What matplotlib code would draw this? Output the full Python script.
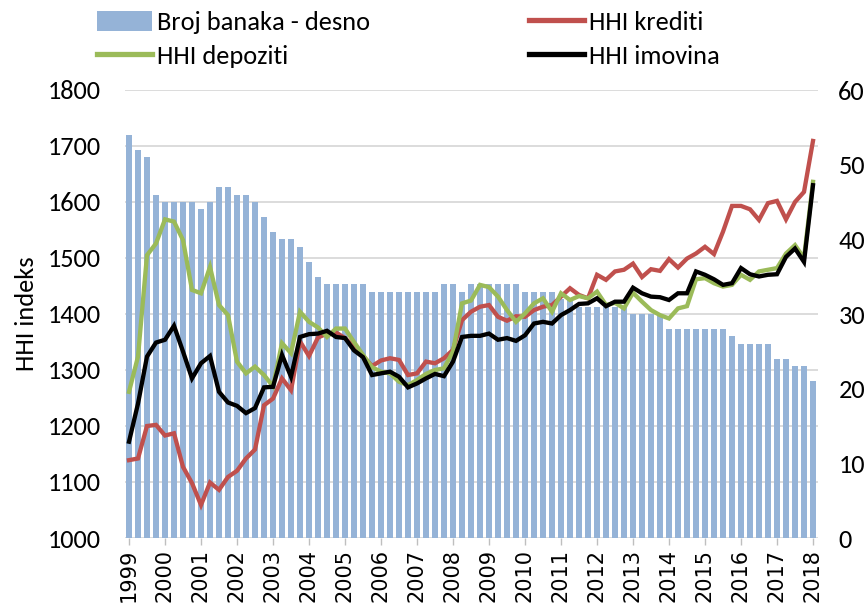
import matplotlib
matplotlib.use("Agg")
import matplotlib.pyplot as plt
from matplotlib import font_manager
import numpy as np
from matplotlib.patches import Patch
from matplotlib.lines import Line2D

years = [str(y) for y in range(1999, 2019)]

broj_banaka = [54, 52, 51, 46, 45, 45, 45, 45, 44, 45, 47, 47, 46, 46, 45, 43,
               41, 40, 40, 39, 37, 35, 34, 34, 34, 34, 34, 33, 33, 33, 33, 33,
               33, 33, 33, 34, 34, 33, 34, 34, 34, 34, 34, 34, 33, 33, 33, 33,
               32, 32, 31, 31, 31, 31, 31, 31, 30, 30, 30, 30, 28, 28, 28, 28,
               28, 28, 28, 27, 26, 26, 26, 26, 24, 24, 23, 23, 21]

hhi_krediti = [1139, 1142, 1200, 1202, 1183, 1187, 1127, 1098, 1059, 1099, 1086, 1109,
               1120, 1142, 1158, 1237, 1249, 1285, 1264, 1351, 1325, 1358, 1365, 1367,
               1357, 1342, 1325, 1307, 1317, 1321, 1318, 1291, 1294, 1315, 1312, 1321,
               1336, 1389, 1404, 1413, 1416, 1395, 1388, 1396, 1395, 1407, 1413, 1416,
               1431, 1446, 1434, 1428, 1470, 1461, 1476, 1479, 1490, 1466, 1480, 1477,
               1498, 1483, 1499, 1508, 1520, 1507, 1547, 1593, 1593, 1587, 1568, 1598,
               1602, 1569, 1600, 1618, 1709]

hhi_depoziti = [1261, 1324, 1505, 1526, 1569, 1565, 1532, 1443, 1437, 1484, 1416, 1398,
                1315, 1294, 1306, 1291, 1271, 1348, 1330, 1404, 1386, 1376, 1359, 1374,
                1374, 1350, 1327, 1305, 1297, 1294, 1279, 1273, 1282, 1293, 1300, 1303,
                1333, 1419, 1424, 1452, 1448, 1431, 1407, 1386, 1401, 1419, 1428, 1404,
                1437, 1425, 1432, 1428, 1440, 1416, 1420, 1410, 1438, 1422, 1407, 1398,
                1392, 1410, 1414, 1462, 1464, 1455, 1449, 1452, 1470, 1461, 1476, 1479,
                1482, 1508, 1523, 1500, 1636]

hhi_imovina = [1172, 1240, 1324, 1349, 1354, 1379, 1333, 1285, 1312, 1325, 1261, 1242,
               1236, 1223, 1232, 1269, 1270, 1327, 1288, 1359, 1364, 1365, 1370, 1359,
               1357, 1335, 1323, 1291, 1294, 1297, 1288, 1269, 1276, 1285, 1293, 1289,
               1315, 1359, 1361, 1361, 1365, 1354, 1357, 1352, 1362, 1383, 1386, 1383,
               1398, 1407, 1418, 1419, 1428, 1414, 1422, 1422, 1447, 1437, 1431, 1430,
               1425, 1437, 1437, 1476, 1470, 1462, 1452, 1455, 1482, 1471, 1467, 1470,
               1471, 1502, 1517, 1493, 1630]

C_BAR = "#95B3D7"
C_RED = "#C0504D"
C_GREEN = "#9BBB59"
C_BLACK = "#000000"

available = {f.name for f in font_manager.fontManager.ttflist}
FONT = "Lato"
for cand in ["Carlito", "Calibri", "Liberation Sans Narrow", "Lato"]:
    if cand in available:
        FONT = cand
        break
FS = 18 if FONT == "Lato" else 19

W, H = 867, 606
fig = plt.figure(figsize=(W / 100, H / 100), dpi=100)
left, right, bottom, top = 124.5, 817.5, 538, 90
ax = fig.add_axes([left / W, 1 - bottom / H, (right - left) / W, (bottom - top) / H])
ax2 = ax.twinx()

x = np.arange(len(broj_banaka))

# bars on right axis
ax2.set_ylim(0, 60)
yl = (1000, 1800)
for t in range(1000, 1801, 100):
    ax2.axhline((t - yl[0]) * 60 / (yl[1] - yl[0]), color="#D9D9D9", lw=1.3, zorder=0.5)
ax2.bar(x, broj_banaka, width=0.68, color=C_BAR, zorder=2, label="Broj banaka - desno")

# lines on left axis
ax.set_zorder(ax2.get_zorder() + 1)
ax.patch.set_visible(False)
ax.plot(x, hhi_krediti, color=C_RED, lw=3.1, solid_joinstyle="miter", label="HHI krediti")
ax.plot(x, hhi_depoziti, color=C_GREEN, lw=3.1, solid_joinstyle="miter", label="HHI depoziti")
ax.plot(x, hhi_imovina, color=C_BLACK, lw=3.1, solid_joinstyle="miter", label="HHI imovina")
ax.set_ylim(*yl)
ax.set_xlim(-0.5, len(x) - 0.5)

for a in (ax, ax2):
    for s in a.spines.values():
        s.set_visible(False)

ax.set_yticks(range(1000, 1801, 100))
ax.tick_params(axis="y", length=0, pad=17, labelsize=FS)
for lab in ax.get_yticklabels():
    lab.set_fontfamily(FONT)
ax2.set_yticks(range(0, 61, 10))
ax2.tick_params(axis="y", length=0, pad=15, labelsize=FS)
for lab in ax2.get_yticklabels():
    lab.set_fontfamily(FONT)

ax.set_xticks(x[::4])
ax.set_xticklabels(years, rotation=90, fontsize=15, fontfamily="DejaVu Sans")
ax.tick_params(axis="x", length=5, width=1, color="#BFBFBF", pad=3)
ax2.tick_params(axis="x", length=0)

ax.set_ylabel("HHI indeks", fontsize=FS, fontfamily=FONT, labelpad=7)

handles = [Patch(facecolor=C_BAR, edgecolor="none"),
           Line2D([], [], color=C_GREEN, lw=3.8),
           Line2D([], [], color=C_RED, lw=3.8),
           Line2D([], [], color=C_BLACK, lw=3.8)]
labels = ["Broj banaka - desno", "HHI depoziti", "HHI krediti", "HHI imovina"]
fig.legend(handles, labels, ncol=2, loc="upper left",
           bbox_to_anchor=(73 / W, 1 + 13 / H), frameon=False,
           prop={"family": FONT, "size": FS}, handlelength=2.1, handleheight=0.8,
           handletextpad=0.2, columnspacing=6.0, labelspacing=0.4, borderpad=0.4)

fig.savefig("out.png", dpi=100)
